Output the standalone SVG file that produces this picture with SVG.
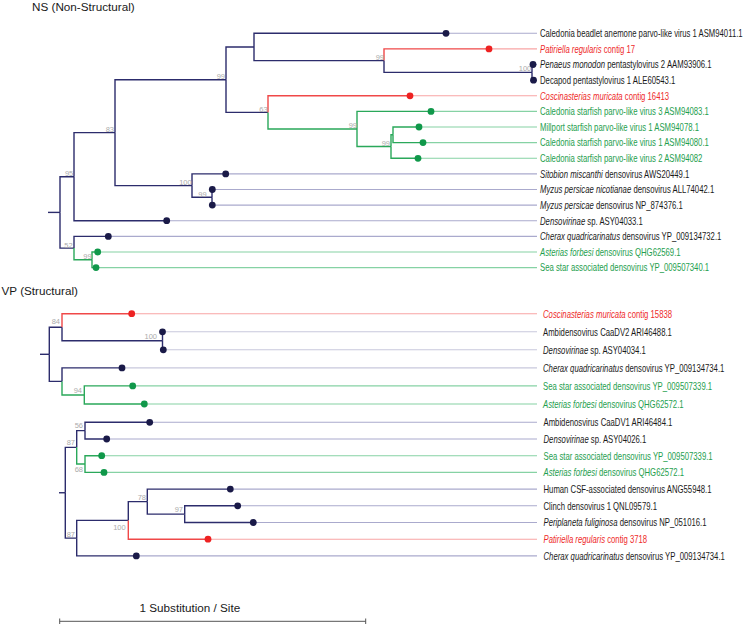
<svg xmlns="http://www.w3.org/2000/svg" width="744" height="625" viewBox="0 0 744 625">
<style>
.b{fill:none;stroke-width:1.4}
.nv{stroke:#2c2c6c}
.rd{stroke:#f04848}
.gr{stroke:#2aa85a}
.l{fill:none;stroke-width:1.1}
.ln{stroke:#aaaacd}
.ln2{stroke:#c8c8dc}
.lr{stroke:#f8a4a4}
.lg{stroke:#86d2a4}
.dn{fill:#1a1a48}
.dr{fill:#ee2222}
.dg{fill:#10984a}
.t{font-family:"Liberation Sans",Arial,sans-serif;font-size:10px;fill:#1a1a1a}
.tr{fill:#ee2a2a}
.tg{fill:#1e9e4e}
.i{font-style:italic}
.s{font-family:"Liberation Sans",Arial,sans-serif;font-size:7.5px;fill:#ababab;text-anchor:end}
.h{font-family:"Liberation Sans",Arial,sans-serif;font-size:11.7px;fill:#1a1a1a}
.sb{fill:none;stroke:#555;stroke-width:1}
</style>
<text class="h" x="32" y="10.5">NS (Non-Structural)</text>
<text class="h" x="1.5" y="295">VP (Structural)</text>
<g id="connectors">
<path class="b nv" d="M48,212.4 H60"/>
<path class="b nv" d="M60,212.4 V176.7 H74"/>
<path class="b nv" d="M60,212.4 V248.1 H74"/>
<path class="b nv" d="M74,176.7 V132.65 H115"/>
<path class="b nv" d="M74,176.7 V220.7 H166.7"/>
<path class="b nv" d="M115,132.65 V79.7 H226"/>
<path class="b nv" d="M115,132.65 V185.6 H192"/>
<path class="b nv" d="M226,79.7 V47 H254"/>
<path class="b nv" d="M226,79.7 V112.4 H268"/>
<path class="b nv" d="M254,47 V33.3 H446"/>
<path class="b nv" d="M254,47 V60.6 H384"/>
<path class="b rd" d="M384,60.6 V48.9 H489"/>
<path class="b nv" d="M384,60.6 V72.35 H532"/>
<path class="b nv" d="M532,72.35 V64.5 H533"/>
<path class="b nv" d="M532,72.35 V80.2 H533.5"/>
<path class="b rd" d="M268,112.4 V95.8 H410"/>
<path class="b gr" d="M268,112.4 V129 H357"/>
<path class="b gr" d="M357,129 V111.4 H431"/>
<path class="b gr" d="M357,129 V146.55 H391"/>
<path class="b gr" d="M391,146.55 V134.8 H393"/>
<path class="b gr" d="M391,146.55 V158.3 H418"/>
<path class="b gr" d="M393,134.8 V127 H419"/>
<path class="b gr" d="M393,134.8 V142.6 H423"/>
<path class="b nv" d="M192,185.6 V173.9 H225.7"/>
<path class="b nv" d="M192,185.6 V197.3 H212"/>
<path class="b nv" d="M212,197.3 V189.5 H212.3"/>
<path class="b nv" d="M212,197.3 V205.1 H212.3"/>
<path class="b nv" d="M74,248.1 V236.4 H108.3"/>
<path class="b gr" d="M74,248.1 V259.8 H92"/>
<path class="b gr" d="M92,259.8 V252 H97.7"/>
<path class="b gr" d="M92,259.8 V267.6 H96"/>
<path class="l ln" d="M446,33.3 H537"/>
<path class="l lr" d="M489,48.9 H537"/>
<path class="l ln" d="M533,64.5 H537"/>
<path class="l ln" d="M533.5,80.2 H537"/>
<path class="l lr" d="M410,95.8 H537"/>
<path class="l lg" d="M431,111.4 H537"/>
<path class="l lg" d="M419,127 H537"/>
<path class="l lg" d="M423,142.6 H537"/>
<path class="l lg" d="M418,158.3 H537"/>
<path class="l ln" d="M225.7,173.9 H537"/>
<path class="l ln" d="M212.3,189.5 H537"/>
<path class="l ln" d="M212.3,205.1 H537"/>
<path class="l ln" d="M166.7,220.7 H537"/>
<path class="l ln" d="M108.3,236.4 H537"/>
<path class="l lg" d="M97.7,252 H537"/>
<path class="l lg" d="M96,267.6 H537"/>
<path class="b nv" d="M40,354.3 H49.3"/>
<path class="b nv" d="M49.3,354.3 V327.25 H62"/>
<path class="b nv" d="M49.3,354.3 V381.4 H62"/>
<path class="b rd" d="M62,327.25 V313.7 H131.7"/>
<path class="b nv" d="M62,327.25 V340.8 H162.5"/>
<path class="b nv" d="M162.5,340.8 V331.8 H162.5"/>
<path class="b nv" d="M162.5,340.8 V349.8 H163.3"/>
<path class="b nv" d="M62,381.4 V367.9 H122"/>
<path class="b gr" d="M62,381.4 V394.95 H84.3"/>
<path class="b gr" d="M84.3,394.95 V385.9 H132.7"/>
<path class="b gr" d="M84.3,394.95 V404 H144.3"/>
<path class="l lr" d="M131.7,313.7 H537"/>
<path class="l ln2" d="M162.5,331.8 H537"/>
<path class="l ln2" d="M163.3,349.8 H537"/>
<path class="l ln2" d="M122,367.9 H537"/>
<path class="l lg" d="M132.7,385.9 H537"/>
<path class="l lg" d="M144.3,404 H537"/>
<path class="b nv" d="M59,492.75 H65.3"/>
<path class="b nv" d="M65.3,492.75 V447.35 H76.7"/>
<path class="b nv" d="M65.3,492.75 V538.15 H76.7"/>
<path class="b nv" d="M76.7,447.35 V430.65 H85"/>
<path class="b gr" d="M76.7,447.35 V464.05 H85"/>
<path class="b nv" d="M85,430.65 V422.3 H149.7"/>
<path class="b nv" d="M85,430.65 V439 H106.7"/>
<path class="b gr" d="M85,464.05 V455.7 H101.7"/>
<path class="b gr" d="M85,464.05 V472.4 H104"/>
<path class="b nv" d="M76.7,538.15 V520.4 H128.3"/>
<path class="b nv" d="M76.7,538.15 V555.9 H136.3"/>
<path class="b nv" d="M128.3,520.4 V501.6 H147.3"/>
<path class="b rd" d="M128.3,520.4 V539.2 H208"/>
<path class="b nv" d="M147.3,501.6 V489.1 H230.3"/>
<path class="b nv" d="M147.3,501.6 V514.15 H184.7"/>
<path class="b nv" d="M184.7,514.15 V505.8 H237.7"/>
<path class="b nv" d="M184.7,514.15 V522.5 H253.3"/>
<path class="l ln" d="M149.7,422.3 H537"/>
<path class="l ln" d="M106.7,439 H537"/>
<path class="l lg" d="M101.7,455.7 H537"/>
<path class="l lg" d="M104,472.4 H537"/>
<path class="l ln" d="M230.3,489.1 H537"/>
<path class="l ln" d="M237.7,505.8 H537"/>
<path class="l ln" d="M253.3,522.5 H537"/>
<path class="l lr" d="M208,539.2 H537"/>
<path class="l ln" d="M136.3,555.9 H537"/>
</g>
<g id="ns-n100a"><text class="s" x="531.3" y="71">100</text></g>
<g id="ns-n99b"><text class="s" x="384" y="60">99</text></g>
<g id="ns-n99c"><text class="s" x="225" y="79">99</text></g>
<g id="ns-n63"><text class="s" x="267.7" y="111.7">63</text></g>
<g id="ns-n99e"><text class="s" x="357" y="127.7">99</text></g>
<g id="ns-n99g"><text class="s" x="390" y="145.7">99</text></g>
<g id="ns-n83"><text class="s" x="114" y="132.3">83</text></g>
<g id="ns-n100i"><text class="s" x="191.7" y="185">100</text></g>
<g id="ns-n99j"><text class="s" x="206.7" y="196.7">99</text></g>
<g id="ns-n95"><text class="s" x="73.3" y="176">95</text></g>
<g id="ns-n52"><text class="s" x="72.7" y="247.7">52</text></g>
<g id="ns-n99m"><text class="s" x="91.7" y="259.3">99</text></g>
<g id="vp-n84"><text class="s" x="60" y="324.3">84</text></g>
<g id="vp-n100o"><text class="s" x="157" y="338.7">100</text></g>
<g id="vp-n94"><text class="s" x="82" y="392.7">94</text></g>
<g id="vp-n87r"><text class="s" x="75" y="445">87</text></g>
<g id="vp-n56"><text class="s" x="83" y="428.3">56</text></g>
<g id="vp-n68"><text class="s" x="83" y="472">68</text></g>
<g id="vp-n87u"><text class="s" x="75" y="536.7">87</text></g>
<g id="vp-n100v"><text class="s" x="125.7" y="529.7">100</text></g>
<g id="vp-n78"><text class="s" x="146" y="500.3">78</text></g>
<g id="vp-n97"><text class="s" x="183" y="512">97</text></g>
<g id="ns-l1"><circle class="dn" cx="446" cy="33.3" r="3.4"/><text class="t" transform="translate(540 37.1) scale(0.772 1)">Caledonia beadlet anemone parvo-like virus 1 ASM94011.1</text></g>
<g id="ns-l2"><circle class="dr" cx="489" cy="48.9" r="3.4"/><text class="t tr" transform="translate(540 52.7) scale(0.775 1)"><tspan class="i">Patiriella regularis</tspan> contig 17</text></g>
<g id="ns-l3"><circle class="dn" cx="533" cy="64.5" r="3.4"/><text class="t" transform="translate(540 68.3) scale(0.775 1)"><tspan class="i">Penaeus monodon</tspan> pentastylovirus 2 AAM93906.1</text></g>
<g id="ns-l4"><circle class="dn" cx="533.5" cy="80.2" r="3.4"/><text class="t" transform="translate(540 84) scale(0.775 1)">Decapod pentastylovirus 1 ALE60543.1</text></g>
<g id="ns-l5"><circle class="dr" cx="410" cy="95.8" r="3.4"/><text class="t tr" transform="translate(540 99.6) scale(0.775 1)"><tspan class="i">Coscinasterias muricata</tspan> contig 16413</text></g>
<g id="ns-l6"><circle class="dg" cx="431" cy="111.4" r="3.4"/><text class="t tg" transform="translate(540 115.2) scale(0.775 1)">Caledonia starfish parvo-like virus 3 ASM94083.1</text></g>
<g id="ns-l7"><circle class="dg" cx="419" cy="127" r="3.4"/><text class="t tg" transform="translate(540 130.8) scale(0.775 1)">Millport starfish parvo-like virus 1 ASM94078.1</text></g>
<g id="ns-l8"><circle class="dg" cx="423" cy="142.6" r="3.4"/><text class="t tg" transform="translate(540 146.4) scale(0.775 1)">Caledonia starfish parvo-like virus 1 ASM94080.1</text></g>
<g id="ns-l9"><circle class="dg" cx="418" cy="158.3" r="3.4"/><text class="t tg" transform="translate(540 162.1) scale(0.775 1)">Caledonia starfish parvo-like virus 2 ASM94082</text></g>
<g id="ns-l10"><circle class="dn" cx="225.7" cy="173.9" r="3.4"/><text class="t" transform="translate(540 177.7) scale(0.775 1)"><tspan class="i">Sitobion miscanthi</tspan> densovirus AWS20449.1</text></g>
<g id="ns-l11"><circle class="dn" cx="212.3" cy="189.5" r="3.4"/><text class="t" transform="translate(540 193.3) scale(0.775 1)"><tspan class="i">Myzus persicae nicotianae</tspan> densovirus ALL74042.1</text></g>
<g id="ns-l12"><circle class="dn" cx="212.3" cy="205.1" r="3.4"/><text class="t" transform="translate(540 208.9) scale(0.775 1)"><tspan class="i">Myzus persicae</tspan> densovirus NP_874376.1</text></g>
<g id="ns-l13"><circle class="dn" cx="166.7" cy="220.7" r="3.4"/><text class="t" transform="translate(540 224.5) scale(0.775 1)"><tspan class="i">Densovirinae</tspan> sp. ASY04033.1</text></g>
<g id="ns-l14"><circle class="dn" cx="108.3" cy="236.4" r="3.4"/><text class="t" transform="translate(540 240.2) scale(0.775 1)"><tspan class="i">Cherax quadricarinatus</tspan> densovirus YP_009134732.1</text></g>
<g id="ns-l15"><circle class="dg" cx="97.7" cy="252" r="3.4"/><text class="t tg" transform="translate(540 255.8) scale(0.775 1)"><tspan class="i">Asterias forbesi</tspan> densovirus QHG62569.1</text></g>
<g id="ns-l16"><circle class="dg" cx="96" cy="267.6" r="3.4"/><text class="t tg" transform="translate(540 271.4) scale(0.775 1)">Sea star associated densovirus YP_009507340.1</text></g>
<g id="vp-l1"><circle class="dr" cx="131.7" cy="313.7" r="3.4"/><text class="t tr" transform="translate(543 317.5) scale(0.775 1)"><tspan class="i">Coscinasterias muricata</tspan> contig 15838</text></g>
<g id="vp-l2"><circle class="dn" cx="162.5" cy="331.8" r="3.4"/><text class="t" transform="translate(543 335.6) scale(0.775 1)">Ambidensovirus CaaDV2 ARI46488.1</text></g>
<g id="vp-l3"><circle class="dn" cx="163.3" cy="349.8" r="3.4"/><text class="t" transform="translate(543 353.6) scale(0.775 1)"><tspan class="i">Densovirinae</tspan> sp. ASY04034.1</text></g>
<g id="vp-l4"><circle class="dn" cx="122" cy="367.9" r="3.4"/><text class="t" transform="translate(543 371.7) scale(0.775 1)"><tspan class="i">Cherax quadricarinatus</tspan> densovirus YP_009134734.1</text></g>
<g id="vp-l5"><circle class="dg" cx="132.7" cy="385.9" r="3.4"/><text class="t tg" transform="translate(543 389.7) scale(0.775 1)">Sea star associated densovirus YP_009507339.1</text></g>
<g id="vp-l6"><circle class="dg" cx="144.3" cy="404" r="3.4"/><text class="t tg" transform="translate(543 407.8) scale(0.775 1)"><tspan class="i">Asterias forbesi</tspan> densovirus QHG62572.1</text></g>
<g id="vp-l7"><circle class="dn" cx="149.7" cy="422.3" r="3.4"/><text class="t" transform="translate(543.5 426.1) scale(0.775 1)">Ambidenosvirus CaaDV1 ARI46484.1</text></g>
<g id="vp-l8"><circle class="dn" cx="106.7" cy="439" r="3.4"/><text class="t" transform="translate(543.5 442.8) scale(0.775 1)"><tspan class="i">Densovirinae</tspan> sp. ASY04026.1</text></g>
<g id="vp-l9"><circle class="dg" cx="101.7" cy="455.7" r="3.4"/><text class="t tg" transform="translate(543.5 459.5) scale(0.775 1)">Sea star associated densovirus YP_009507339.1</text></g>
<g id="vp-l10"><circle class="dg" cx="104" cy="472.4" r="3.4"/><text class="t tg" transform="translate(543.5 476.2) scale(0.775 1)"><tspan class="i">Asterias forbesi</tspan> densovirus QHG62572.1</text></g>
<g id="vp-l11"><circle class="dn" cx="230.3" cy="489.1" r="3.4"/><text class="t" transform="translate(543.5 492.9) scale(0.775 1)">Human CSF-associated densovirus ANG55948.1</text></g>
<g id="vp-l12"><circle class="dn" cx="237.7" cy="505.8" r="3.4"/><text class="t" transform="translate(543.5 509.6) scale(0.775 1)">Clinch densovirus 1 QNL09579.1</text></g>
<g id="vp-l13"><circle class="dn" cx="253.3" cy="522.5" r="3.4"/><text class="t" transform="translate(543.5 526.3) scale(0.775 1)"><tspan class="i">Periplaneta fuliginosa</tspan> densovirus NP_051016.1</text></g>
<g id="vp-l14"><circle class="dr" cx="208" cy="539.2" r="3.4"/><text class="t tr" transform="translate(543.5 543) scale(0.775 1)"><tspan class="i">Patiriella regularis</tspan> contig 3718</text></g>
<g id="vp-l15"><circle class="dn" cx="136.3" cy="555.9" r="3.4"/><text class="t" transform="translate(543.5 559.7) scale(0.775 1)"><tspan class="i">Cherax quadricarinatus</tspan> densovirus YP_009134734.1</text></g>
<g id="scale">
<path class="sb" d="M59.7,621.3 H365.7 M59.7,618.5 V624 M365.7,618.5 V624"/>
<text class="h" x="139.5" y="611.5">1 Substitution / Site</text>
</g>
</svg>
